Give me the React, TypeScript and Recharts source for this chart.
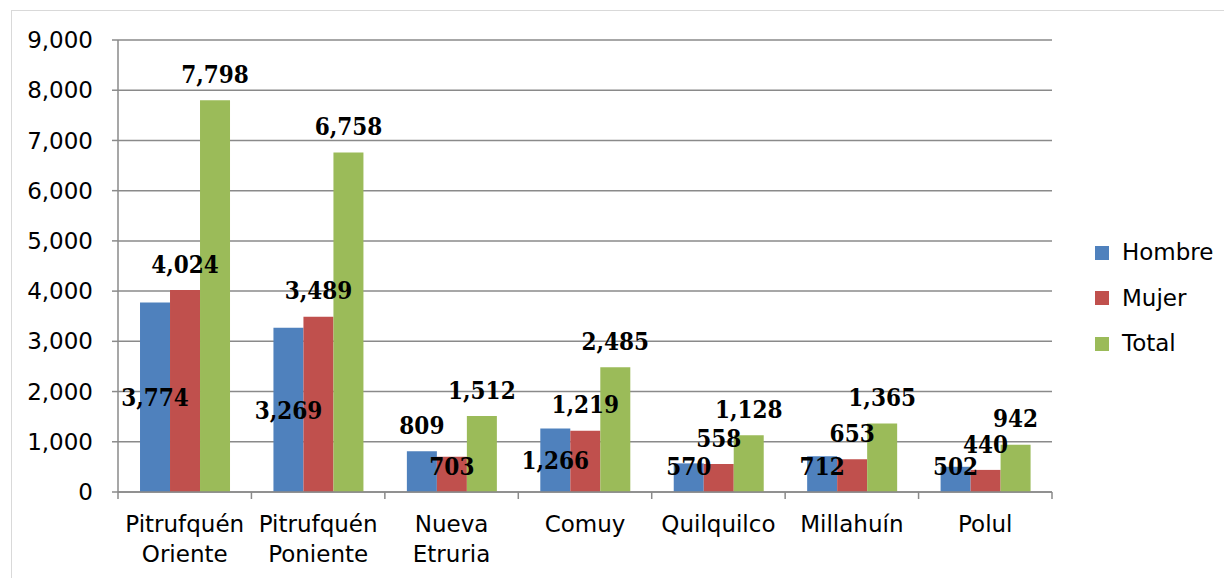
import React from 'react';
import { BarChart, Bar, XAxis, YAxis, CartesianGrid, Legend, LabelList } from 'recharts';

const categories = ['Pitrufquén Oriente', 'Pitrufquén Poniente', 'Nueva Etruria', 'Comuy', 'Quilquilco', 'Millahuín', 'Polul'];
const hombre = [3774, 3269, 809, 1266, 570, 712, 502];
const mujer = [4024, 3489, 703, 1219, 558, 653, 440];
const total = [7798, 6758, 1512, 2485, 1128, 1365, 942];
const yTicks = [0, 1000, 2000, 3000, 4000, 5000, 6000, 7000, 8000, 9000];
const seriesNames = ['Hombre', 'Mujer', 'Total'];
const seriesColors = ['#4F81BD', '#C0504D', '#9BBB59'];
// label placement modes (as in the original chart)
const hombreLabelMode = ['center', 'center', 'top', 'center', 'base', 'base', 'base'];
const mujerLabelMode = ['top', 'top', 'base', 'top', 'top', 'top', 'top'];
const totalLabelMode = ['top', 'top', 'top', 'top', 'top', 'top', 'top'];

const data = categories.map((c, i) => ({ name: c, Hombre: hombre[i], Mujer: mujer[i], Total: total[i] }));

const W = 1224;
const H = 570;
const M_TOP = 32;
const M_RIGHT = 180;
const Y_W = 110;
const X_H = 86;
const PLOT_W = W - Y_W - M_RIGHT;
const BAND = PLOT_W / categories.length;
const AXIS_COLOR = '#8a8a8a';
const SANS = "'DejaVu Sans', sans-serif";
const fmt = (v: number) => v.toLocaleString('en-US');

const makeLabel = (modes: string[]) => (props: any) => {
  const { x, y, width, height, value, index } = props;
  const top = Number(y);
  const bottom = Number(y) + Number(height);
  const cx = Number(x) + Number(width) / 2;
  const mode = modes[index];
  let cy = (top + bottom) / 2;
  if (mode === 'top') cy = top - 26;
  else if (mode === 'base') cy = bottom - 26;
  return (
    <text
      x={cx}
      y={cy + 8.7}
      textAnchor="middle"
      fontFamily="'DejaVu Serif', serif"
      fontWeight="bold"
      fontSize={24}
      style={{ fontStretch: 'condensed' }}
      fill="#000"
    >
      {fmt(Number(value))}
    </text>
  );
};

const CategoryTick = (props: any) => {
  const { x, y, payload, index } = props;
  const label: string = payload.value;
  const lines = label.includes(' ') ? label.split(' ') : [label];
  const left = x - BAND / 2;
  const right = x + BAND / 2;
  return (
    <g>
      <line x1={left} x2={left} y1={y} y2={y + 7} stroke={AXIS_COLOR} strokeWidth={1.5} />
      {index === categories.length - 1 && (
        <line x1={right} x2={right} y1={y} y2={y + 7} stroke={AXIS_COLOR} strokeWidth={1.5} />
      )}
      {lines.map((l, i) => (
        <text key={i} x={x} y={y + 40 + i * 30} textAnchor="middle" fontFamily={SANS} fontSize={23} fill="#000">
          {l}
        </text>
      ))}
    </g>
  );
};

const LegendContent = () => (
  <div style={{ fontFamily: SANS, fontSize: 23, color: '#000' }}>
    {seriesNames.map((n, i) => (
      <div key={n} style={{ height: 45.5, display: 'flex', alignItems: 'center' }}>
        <div style={{ width: 14, height: 14, background: seriesColors[i], marginRight: 13 }} />
        <span style={{ lineHeight: '23px' }}>{n}</span>
      </div>
    ))}
  </div>
);

export default function App() {
  return (
    <div style={{ position: 'relative', width: W, height: H, overflow: 'hidden', background: '#fff' }}>
      <div
        style={{
          position: 'absolute',
          left: 3,
          top: 2,
          width: 2000,
          height: 2000,
          borderLeft: '1px solid #d9d9d9',
          borderTop: '1px solid #d9d9d9',
        }}
      />
      <div style={{ position: 'absolute', left: 0, top: 0 }}>
        <BarChart
          width={W}
          height={H}
          data={data}
          margin={{ top: M_TOP, right: M_RIGHT, bottom: 0, left: 0 }}
          barCategoryGap="16.5%"
          barGap={0}
        >
          <CartesianGrid vertical={false} stroke={AXIS_COLOR} strokeWidth={1.5} />
          <XAxis
            dataKey="name"
            height={X_H}
            axisLine={{ stroke: AXIS_COLOR, strokeWidth: 1.5 }}
            tickLine={false}
            tickSize={0}
            tickMargin={0}
            interval={0}
            tick={<CategoryTick />}
          />
          <YAxis
            width={Y_W}
            domain={[0, 9000]}
            ticks={yTicks}
            interval={0}
            tickFormatter={fmt}
            axisLine={{ stroke: AXIS_COLOR, strokeWidth: 1.5 }}
            tickLine={{ stroke: AXIS_COLOR, strokeWidth: 1.5 }}
            tickSize={6}
            tickMargin={19}
            tick={{ fontFamily: SANS, fontSize: 23, fill: '#000' }}
          />
          <Legend
            layout="vertical"
            align="center"
            verticalAlign="middle"
            wrapperStyle={{ left: 1087, top: 222, width: 140 }}
            content={<LegendContent />}
          />
          <Bar dataKey="Hombre" fill={seriesColors[0]} isAnimationActive={false}>
            <LabelList dataKey="Hombre" content={makeLabel(hombreLabelMode)} />
          </Bar>
          <Bar dataKey="Mujer" fill={seriesColors[1]} isAnimationActive={false}>
            <LabelList dataKey="Mujer" content={makeLabel(mujerLabelMode)} />
          </Bar>
          <Bar dataKey="Total" fill={seriesColors[2]} isAnimationActive={false}>
            <LabelList dataKey="Total" content={makeLabel(totalLabelMode)} />
          </Bar>
        </BarChart>
      </div>
    </div>
  );
}
